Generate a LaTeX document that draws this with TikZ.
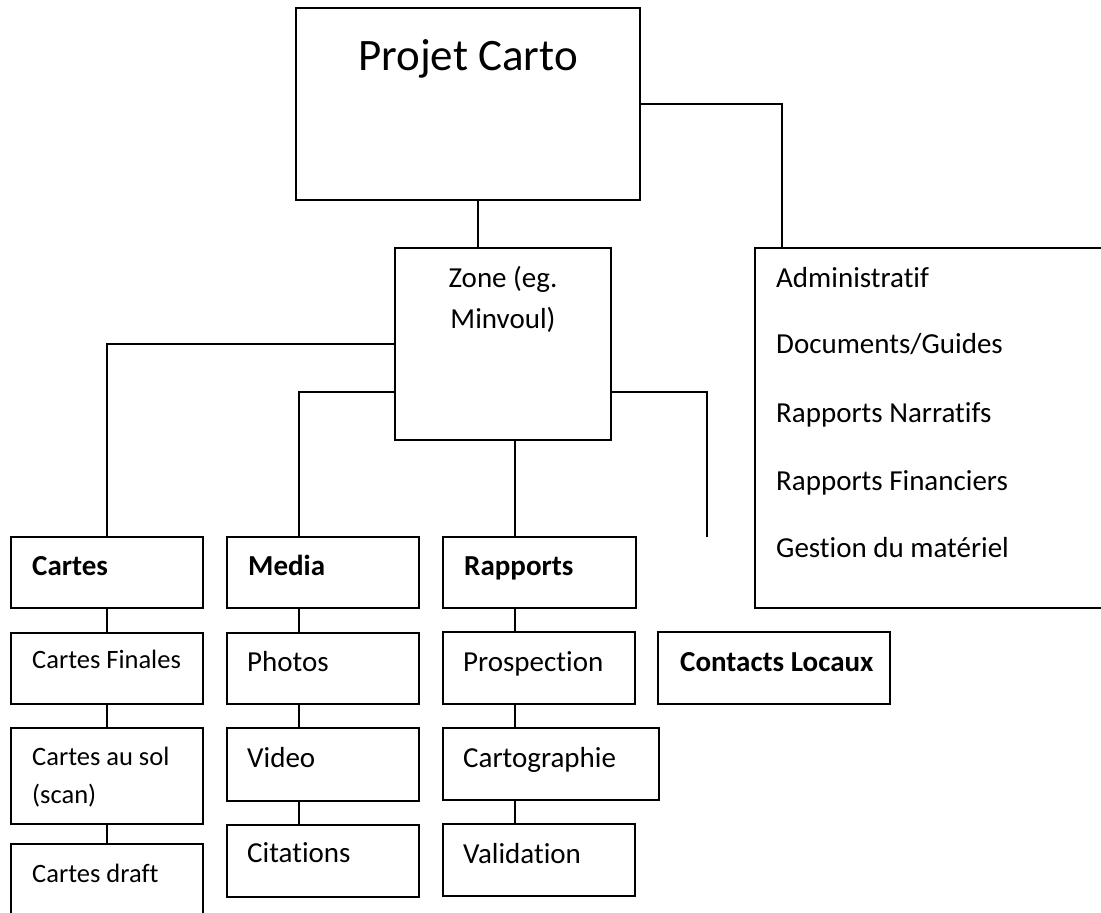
\documentclass[tikz,border=0pt]{standalone}
\usepackage{fontspec}
\setmainfont[Ligatures=NoCommon]{Carlito}
\begin{document}
\begin{tikzpicture}[x=1pt,y=-1pt,
  box/.style={draw=black,line width=1.8pt,rectangle,anchor=north west,inner sep=0pt,outer sep=0pt},
  lbl/.style={anchor=base west,inner sep=0pt,font=\fontsize{29}{34}\selectfont},
  slbl/.style={anchor=base west,inner sep=0pt,font=\fontsize{26.5}{32}\selectfont},
  blbl/.style={anchor=base west,inner sep=0pt,font=\fontsize{29}{34}\selectfont\bfseries},
  clbl/.style={anchor=base,inner sep=0pt,font=\fontsize{29}{34}\selectfont},
  con/.style={line width=1.8pt}]
\useasboundingbox (0,0) rectangle (1101,913);
\clip (0,0) rectangle (1101,913);
\fill[white] (0,0) rectangle (1101,913);
% boxes
\node[box,minimum width=344pt,minimum height=192pt] (projet) at (296,8) {};
\node[box,minimum width=216pt,minimum height=192pt] (zone) at (395,248) {};
\node[box,minimum width=420pt,minimum height=360pt] (admin) at (755,248) {};
\node[box,minimum width=192pt,minimum height=71pt] (cartes) at (11,537) {};
\node[box,minimum width=192pt,minimum height=71pt] (media) at (227,537) {};
\node[box,minimum width=193pt,minimum height=71pt] (rapports) at (443,537) {};
\node[box,minimum width=192pt,minimum height=71pt] (finales) at (11,633) {};
\node[box,minimum width=192pt,minimum height=96pt] (ausol) at (11,728) {};
\node[box,minimum width=192pt,minimum height=110pt] (draft) at (11,844) {};
\node[box,minimum width=192pt,minimum height=71pt] (photos) at (227,633) {};
\node[box,minimum width=192pt,minimum height=73pt] (video) at (227,728) {};
\node[box,minimum width=192pt,minimum height=72pt] (citations) at (227,825) {};
\node[box,minimum width=192pt,minimum height=72pt] (prospection) at (443,632) {};
\node[box,minimum width=216pt,minimum height=72pt] (cartographie) at (443,728) {};
\node[box,minimum width=192pt,minimum height=72pt] (validation) at (443,824) {};
\node[box,minimum width=232pt,minimum height=72pt] (contacts) at (658,632) {};
% texts
\node[anchor=base,inner sep=0pt,font=\fontsize{45}{50}\selectfont] (projetT) at (468,70) {Projet Carto};
\node[clbl] (zoneT1) at (503,287) {Zone (eg.};
\node[clbl] (zoneT2) at (503,328) {Minvoul)};
\node[lbl] (adm1) at (776,287) {Administratif};
\node[lbl] (adm2) at (776,353) {Documents/Guides};
\node[lbl] (adm3) at (776,422) {Rapports Narratifs};
\node[lbl] (adm4) at (776,490) {Rapports Financiers};
\node[lbl] (adm5) at (776,557) {Gestion du matériel};
\node[blbl] (cartesT) at ([xshift=21pt,yshift=-38pt]cartes.north west) {Cartes};
\node[blbl] (mediaT) at ([xshift=21pt,yshift=-38pt]media.north west) {Media};
\node[blbl] (rapportsT) at ([xshift=21pt,yshift=-38pt]rapports.north west) {Rapports};
\node[blbl] (contactsT) at ([xshift=22pt,yshift=-39pt]contacts.north west) {Contacts Locaux};
\node[slbl] (finalesT) at ([xshift=21pt,yshift=-35pt]finales.north west) {Cartes Finales};
\node[slbl] (ausolT1) at ([xshift=21pt,yshift=-37pt]ausol.north west) {Cartes au sol};
\node[slbl] (ausolT2) at ([xshift=21pt,yshift=-75pt]ausol.north west) {(scan)};
\node[slbl] (draftT) at ([xshift=21pt,yshift=-38pt]draft.north west) {Cartes draft};
\node[lbl] (photosT) at ([xshift=20pt,yshift=-38pt]photos.north west) {Photos};
\node[lbl] (videoT) at ([xshift=20pt,yshift=-39pt]video.north west) {Video};
\node[lbl] (citationsT) at ([xshift=20pt,yshift=-37pt]citations.north west) {Citations};
\node[lbl] (prospectionT) at ([xshift=20pt,yshift=-39pt]prospection.north west) {Prospection};
\node[lbl] (cartographieT) at ([xshift=20pt,yshift=-39pt]cartographie.north west) {Cartographie};
\node[lbl] (validationT) at ([xshift=20pt,yshift=-39pt]validation.north west) {Validation};
% connectors
\coordinate (freeEnd) at (707,537);
\draw[con] ([xshift=182pt]projet.south west) -- ([xshift=83pt]zone.north west);
\draw[con] ([yshift=-96pt]projet.north east) -| ([xshift=27pt]admin.north west);
\draw[con] ([yshift=-96pt]zone.north west) -| (cartes.north);
\draw[con] ([yshift=-144pt]zone.north west) -| ([xshift=72pt]media.north west);
\draw[con] ([yshift=-144pt]zone.north east) -| (freeEnd);
\draw[con] ([xshift=120pt]zone.south west) -- ([xshift=72pt]rapports.north west);
\draw[con] (cartes.south) -- (finales.north);
\draw[con] (finales.south) -- (ausol.north);
\draw[con] (ausol.south) -- (draft.north);
\draw[con] ([xshift=72pt]media.south west) -- ([xshift=72pt]photos.north west);
\draw[con] ([xshift=72pt]photos.south west) -- ([xshift=72pt]video.north west);
\draw[con] ([xshift=72pt]video.south west) -- ([xshift=72pt]citations.north west);
\draw[con] ([xshift=72pt]rapports.south west) -- ([xshift=72pt]prospection.north west);
\draw[con] ([xshift=72pt]prospection.south west) -- ([xshift=72pt]cartographie.north west);
\draw[con] ([xshift=72pt]cartographie.south west) -- ([xshift=72pt]validation.north west);
\end{tikzpicture}
\end{document}
